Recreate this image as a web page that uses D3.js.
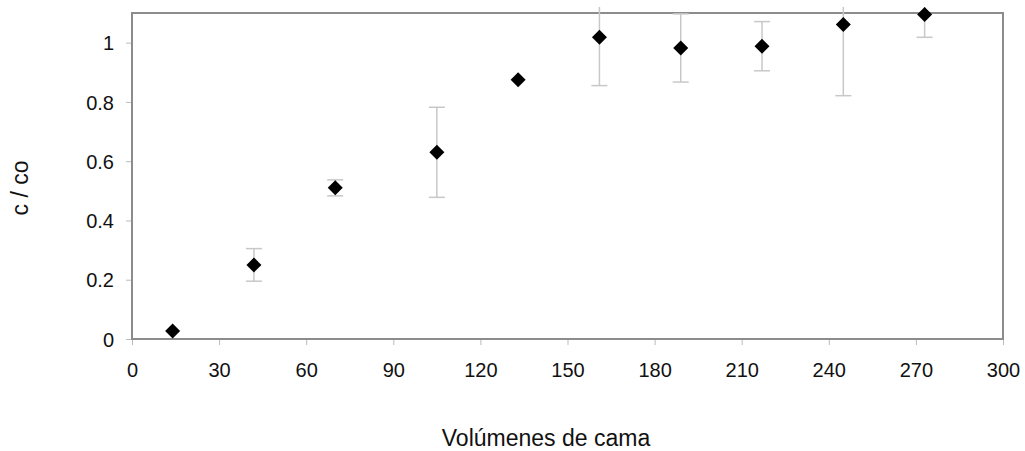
<!DOCTYPE html>
<html>
<head>
<meta charset="utf-8">
<script src="https://cdn.jsdelivr.net/npm/d3@7"></script>
<style>
  body { margin: 0; background: #fff; }
  text { font-family: Arial, "Liberation Sans", sans-serif; fill: #111; }
</style>
</head>
<body>
<svg id="chart" width="1025" height="451"></svg>
<script>
// bed volumes (x), c/co (y) and +/- error
const volumes = [14, 42, 70, 105, 133, 161, 189, 217, 245, 273];
const ratio = [0.027, 0.25, 0.51, 0.63, 0.875, 1.018, 0.982, 0.988, 1.061, 1.095];
const errors = [0, 0.055, 0.027, 0.152, 0, 0.163, 0.115, 0.083, 0.24, 0.077];
const xTicks = [0, 30, 60, 90, 120, 150, 180, 210, 240, 270, 300];
const yTicks = [0, 0.2, 0.4, 0.6, 0.8, 1];

const width = 1025, height = 451;
const margin = {top: 13, right: 22, bottom: 112, left: 132};

const svg = d3.select("#chart");

const x = d3.scaleLinear().domain([0, 300]).range([margin.left, width - margin.right]);
const y = d3.scaleLinear().domain([0, 1.1]).range([height - margin.bottom, margin.top]);

const data = volumes.map((v, i) => ({v: v, c: ratio[i], e: errors[i]}));

// axes
const xAxis = svg.append("g")
    .attr("transform", `translate(0,${height - margin.bottom})`)
    .call(d3.axisBottom(x).tickValues(xTicks).tickSize(6).tickPadding(18));
const yAxis = svg.append("g")
    .attr("transform", `translate(${margin.left},0)`)
    .call(d3.axisLeft(y).tickValues(yTicks).tickSize(6).tickPadding(12).tickFormat(d3.format("~g")));

[xAxis, yAxis].forEach(a => {
  a.select(".domain").remove();
  a.selectAll(".tick line").attr("stroke", "#bbb");
  a.selectAll(".tick text").style("font-size", "20px").attr("fill", "#111");
});
yAxis.selectAll(".tick text").attr("dy", "0.36em");

// plot frame
svg.append("rect")
    .attr("x", margin.left)
    .attr("y", margin.top)
    .attr("width", width - margin.right - margin.left)
    .attr("height", height - margin.bottom - margin.top)
    .attr("fill", "none")
    .attr("stroke", "#8c8c8c")
    .attr("stroke-width", 2);

// error bars (they run a little past the frame top)
svg.append("clipPath").attr("id", "errclip")
  .append("rect")
    .attr("x", 0).attr("y", margin.top - 6)
    .attr("width", width).attr("height", height);

const bars = svg.append("g")
    .attr("clip-path", "url(#errclip)")
    .attr("stroke", "#c8c8c8")
    .attr("stroke-width", 1.5)
  .selectAll("g")
  .data(data.filter(d => d.e > 0))
  .join("g");

bars.append("line")
    .attr("x1", d => x(d.v)).attr("x2", d => x(d.v))
    .attr("y1", d => y(d.c - d.e)).attr("y2", d => y(d.c + d.e));
bars.append("line")
    .attr("x1", d => x(d.v) - 8).attr("x2", d => x(d.v) + 8)
    .attr("y1", d => y(d.c - d.e)).attr("y2", d => y(d.c - d.e));
bars.append("line")
    .attr("x1", d => x(d.v) - 8).attr("x2", d => x(d.v) + 8)
    .attr("y1", d => y(d.c + d.e)).attr("y2", d => y(d.c + d.e));

// diamond markers
const r = 7.5;
svg.append("g")
  .selectAll("path")
  .data(data)
  .join("path")
    .attr("d", d => {
      const cx = x(d.v), cy = y(d.c);
      return `M${cx},${cy - r}L${cx + r},${cy}L${cx},${cy + r}L${cx - r},${cy}Z`;
    })
    .attr("fill", "#000");

// axis titles
svg.append("text")
    .attr("x", 546)
    .attr("y", 446)
    .attr("text-anchor", "middle")
    .style("font-size", "23px")
    .text("Volúmenes de cama");

svg.append("text")
    .attr("transform", "translate(28,188) rotate(-90)")
    .attr("text-anchor", "middle")
    .style("font-size", "23px")
    .text("c / co");
</script>
</body>
</html>
